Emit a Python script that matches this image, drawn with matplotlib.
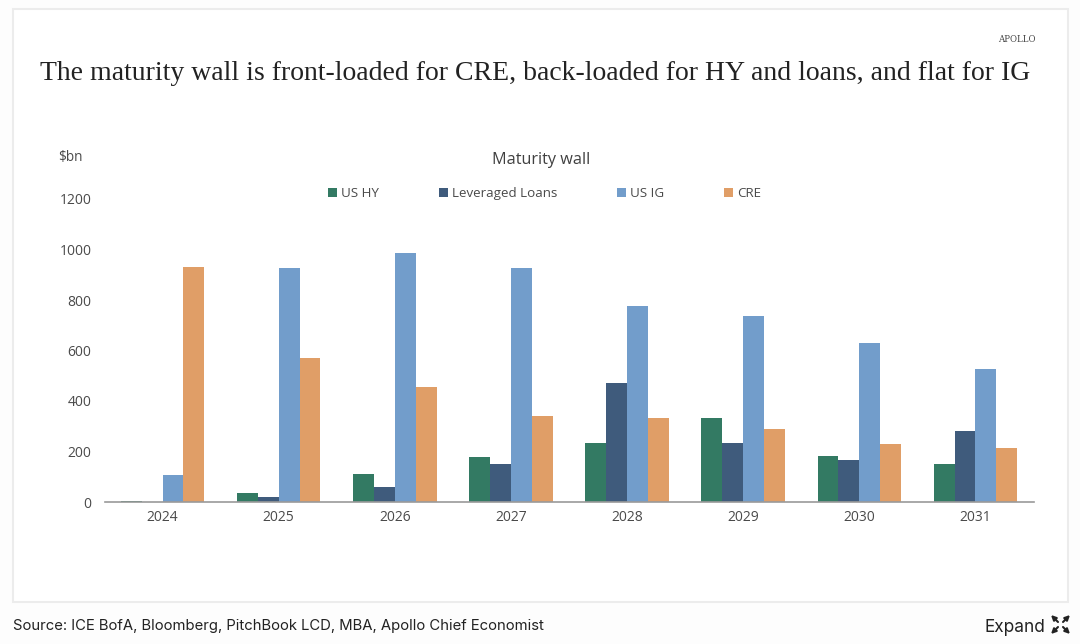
import matplotlib
matplotlib.use('Agg')
import matplotlib.pyplot as plt
import numpy as np
from matplotlib.patches import Rectangle

years = ['2024', '2025', '2026', '2027', '2028', '2029', '2030', '2031']
us_hy = [5, 35, 110, 180, 232, 332, 182, 152]
lev_loans = [0, 20, 60, 150, 470, 232, 165, 280]
us_ig = [105, 925, 985, 925, 778, 735, 630, 525]
cre = [930, 570, 455, 340, 333, 288, 228, 213]
series_names = ['US HY', 'Leveraged Loans', 'US IG', 'CRE']
colors = ['#337a63', '#3f5b7c', '#729dcb', '#e09e67']
y_ticks = [0, 200, 400, 600, 800, 1000, 1200]

W, H = 1080, 644
sans = ['Open Sans', 'DejaVu Sans']

def fx(px):
    return px / W

def fy(py):
    return 1 - py / H

fig = plt.figure(figsize=(W / 100, H / 100), dpi=100, facecolor='#fdfdfd')

# card behind the chart
fig.patches.append(Rectangle((fx(13), fy(602)), fx(1068 - 13), 593 / H, transform=fig.transFigure,
                             facecolor='white', edgecolor='#ececec', linewidth=1.5, zorder=-1))

ax = fig.add_axes([fx(104.5), fy(502), fx(1033 - 104), 303 / H])
ax.patch.set_alpha(0)

x = np.arange(len(years))
w = 0.18
for i, vals in enumerate([us_hy, lev_loans, us_ig, cre]):
    ax.bar(x + (i - 1.5) * w, vals, w, color=colors[i], linewidth=0, zorder=2)

ax.set_xlim(-0.5, 7.5)
ax.set_ylim(0, 1200)
ax.set_xticks(x, years)
ax.set_yticks(y_ticks)
ax.tick_params(axis='both', length=0, labelsize=10, labelcolor='#4a4a4a')
ax.tick_params(axis='x', pad=6)
ax.tick_params(axis='y', pad=9.5)
for lab in ax.get_xticklabels() + ax.get_yticklabels():
    lab.set_family(sans)
for s in ['top', 'right', 'left']:
    ax.spines[s].set_visible(False)
ax.spines['bottom'].set_color('#9a9a9a')
ax.spines['bottom'].set_linewidth(1.2)

fig.text(fx(1036), fy(39), 'APOLLO', family='DejaVu Serif', fontsize=6.2, color='#444444',
         ha='right', va='center')
fig.text(fx(535), fy(73), 'The maturity wall is front-loaded for CRE, back-loaded for HY and loans, and flat for IG',
         family='Liberation Serif', fontsize=20, color='#222222', ha='center', va='center')
fig.text(fx(58), fy(158), '$bn', family=sans, fontsize=9.8, color='#4a4a4a', ha='left', va='center')
fig.text(fx(541), fy(160), 'Maturity wall', family=sans, fontsize=11.7, color='#404040', ha='center', va='center')

# legend placed by hand, the entries are spaced unevenly
legend_x = [328, 439, 617, 724]
for name, col, lx in zip(series_names, colors, legend_x):
    fig.patches.append(Rectangle((fx(lx), fy(197)), 9 / W, 9 / H, transform=fig.transFigure,
                                 facecolor=col, edgecolor='none'))
    fig.text(fx(lx + 13), fy(197), name, family=sans, fontsize=9.6, color='#4a4a4a', ha='left', va='baseline')

fig.text(fx(13), fy(626), 'Source: ICE BofA, Bloomberg, PitchBook LCD, MBA, Apollo Chief Economist',
         family='Inter', fontsize=10.7, color='#222222', ha='left', va='center')
fig.text(fx(1045), fy(627), 'Expand', family='Inter', fontsize=12.4, color='#222222', ha='right', va='center')

# expand icon, four little arrows pointing out
for tip, tail in [((1051, 615), (1058, 622)), ((1070, 615), (1063, 622)),
                  ((1051, 634), (1058, 627)), ((1070, 634), (1063, 627))]:
    fig.add_artist(matplotlib.patches.FancyArrowPatch(
        (fx(tail[0]), fy(tail[1])), (fx(tip[0]), fy(tip[1])), transform=fig.transFigure,
        arrowstyle='-|>', mutation_scale=7, color='#222222', linewidth=1.5, shrinkA=0, shrinkB=0))

fig.savefig('out.png', dpi=100, facecolor=fig.get_facecolor())
